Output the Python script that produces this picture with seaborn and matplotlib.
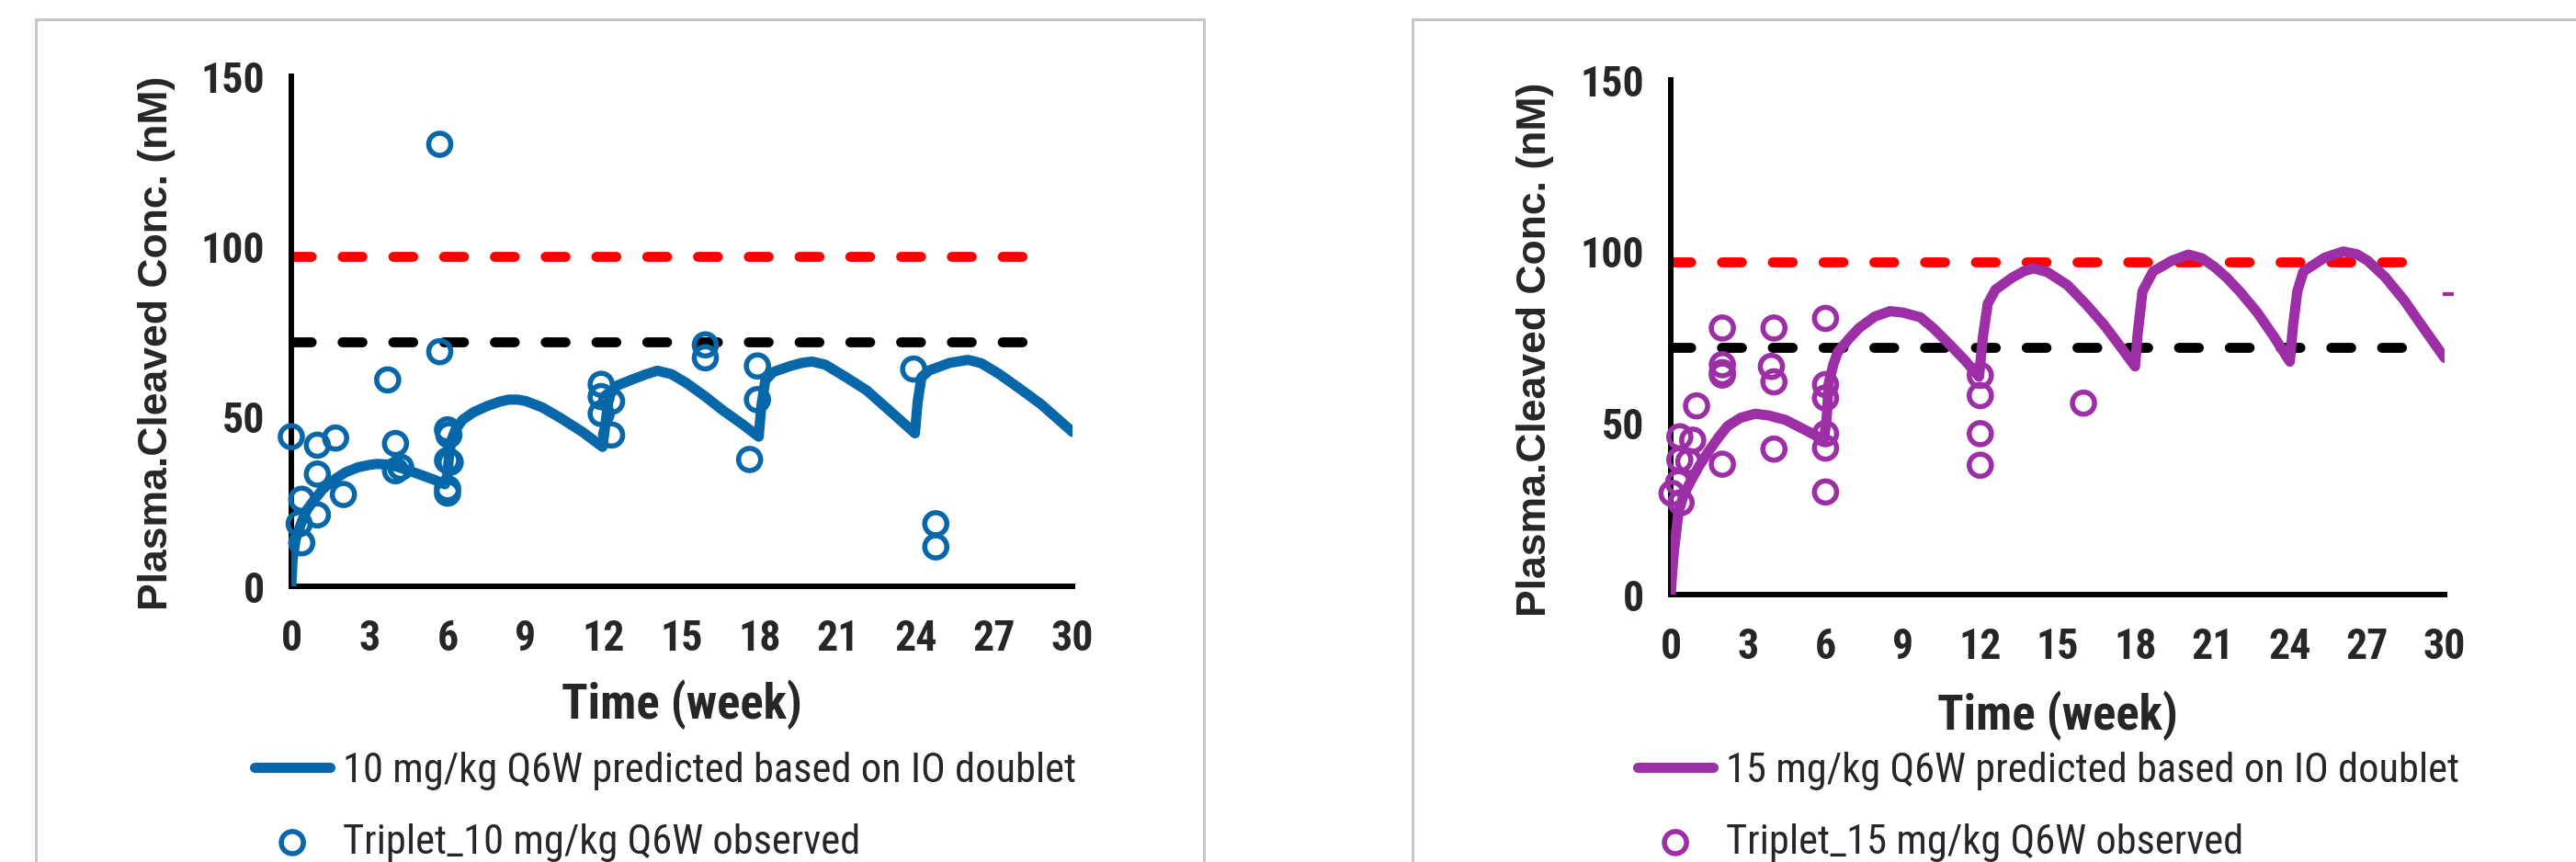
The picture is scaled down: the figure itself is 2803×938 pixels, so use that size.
import numpy as np
import pandas as pd
import matplotlib
matplotlib.use('Agg')
import matplotlib.pyplot as plt
import matplotlib.patches as patches
import seaborn as sns

# predicted curves (week, nM)
t_pred_10 = [0, 0.05, 0.17, 0.4, 0.6, 0.81, 1.2, 1.5, 1.75, 2.1, 2.56, 3.0, 3.28, 3.7,
             4.1, 4.6, 5.0, 5.5, 5.9,
             6.0, 6.05, 6.15, 6.3, 6.58, 7.0, 7.52, 8.0, 8.34, 8.7, 9.0, 9.64, 10.34,
             11.2, 11.95,
             12.05, 12.2, 12.5, 13.05, 13.6, 14.05, 14.6, 15.17, 15.9, 16.58, 17.3, 17.95,
             18.05, 18.2, 18.5, 19.17, 19.6, 19.99, 20.5, 21.28, 22.1, 23.0, 23.95,
             24.05, 24.2, 24.5, 25.28, 25.99, 26.5, 27.17, 28.0, 28.8, 30.0]
c_pred_10 = [0, 8, 14, 19, 22.5, 24.7, 28.5, 30.5, 31.9, 33.6, 35, 35.7, 36, 35.8,
             35.1, 33.8, 32.7, 31.3, 30,
             33, 38, 43, 46, 49, 51.2, 53, 54.3, 54.9, 54.9, 54.5, 52.6, 49.5,
             45.3, 41,
             47, 56, 59, 60.7, 62.3, 63.4, 62.4, 59.8, 55.8, 51.7, 47.8, 44,
             53, 60.5, 63, 64.8, 65.7, 66.1, 65.2, 61.6, 57.6, 51.5, 45,
             54, 61.5, 63.5, 65.7, 66.6, 65.6, 62.5, 58, 53.5, 45.4]

t_pred_15 = [0, 0.05, 0.12, 0.3, 0.5, 0.77, 1.1, 1.49, 1.85, 2.2, 2.7, 3.27, 3.8,
             4.45, 5.2, 5.94,
             6.05, 6.12, 6.3, 6.47, 6.9, 7.3, 7.9, 8.5, 9.0, 9.68, 10.2, 10.8, 11.4, 11.95,
             12.1, 12.29, 12.59, 13.24, 13.7, 14.07, 14.6, 15.38, 16.1, 16.8, 17.4, 18.0,
             18.1, 18.29, 18.7, 19.42, 20.07, 20.6, 21.08, 21.55, 22.1, 22.74, 23.4, 24.0,
             24.12, 24.29, 24.53, 25.35, 26.07, 26.6, 27.02, 27.7, 28.44, 29.2, 30.0]
c_pred_15 = [0, 6, 12.5, 24.1, 29, 33, 37.5, 42, 45.8, 49.1, 51.5, 52.7, 52.2,
             50.9, 48, 45.1,
             52, 61.6, 67, 70.6, 74.5, 77.7, 81, 82.6, 82.2, 80.8, 77.5, 73, 68.3, 63.5,
             75, 84.8, 88.9, 92.4, 94.3, 95.1, 94, 90.2, 84.6, 78.6, 72.6, 66.5,
             76, 88.4, 94.2, 97.3, 99.1, 98, 95.5, 92.4, 88, 82.2, 75, 67.9,
             78, 88.4, 94.2, 98.2, 100, 99.2, 97.3, 92.5, 85.7, 77.5, 69]

# observed triplet data
t_obs_10 = [0, 0.3, 0.4, 0.4, 1.0, 1.0, 1.0, 1.7, 2.0, 3.7, 4.0, 4.0, 4.2,
            5.7, 5.7, 6.0, 6.05, 6.0, 6.1, 6.0, 6.0,
            11.9, 11.9, 12.3, 11.9, 12.3, 15.9, 15.9, 17.9, 17.9, 17.6,
            23.9, 24.75, 24.75]
c_obs_10 = [44, 18.4, 12.8, 25.6, 41.5, 33, 21, 43.6, 27, 60.7, 42, 34, 35,
            130, 69, 46, 44.5, 37, 36.5, 28.7, 27.4,
            59.4, 55.8, 54.4, 50.8, 44.5, 71, 67.2, 64.8, 54.9, 37.3,
            63.9, 18.4, 11.6]

t_obs_15 = [0.05, 0.3, 0.4, 0.35, 0.7, 0.85, 0.35, 1.0,
            2.0, 2.0, 2.0, 2.0, 2.0,
            3.9, 4.0, 4.0, 4.0,
            6.0, 6.0, 6.0, 6.0, 6.0, 6.0,
            12.0, 12.0, 12.0, 12.0, 16.0]
c_obs_15 = [29.5, 32.6, 26.8, 46, 38.8, 45, 39.3, 55,
            77.7, 67, 64.7, 64, 38,
            66.5, 77.7, 62, 42.4,
            80.5, 61.2, 57.3, 46.9, 42.7, 29.9,
            63.9, 58, 46.9, 37.7, 55.8]

# small stray mark right of the 15 mg/kg panel
t_stray = [30.15]
c_stray = [87.5]

ref_x = [0, 28.7]
red_level = 97
black_level = 72
x_ticks = [0, 3, 6, 9, 12, 15, 18, 21, 24, 27, 30]
y_ticks = [0, 50, 100, 150]

label_10 = ['10 mg/kg Q6W predicted based on IO doublet', 'Triplet_10 mg/kg Q6W observed']
label_15 = ['15 mg/kg Q6W predicted based on IO doublet', 'Triplet_15 mg/kg Q6W observed']

blue = '#0767a9'
purple = '#9c2ea6'

sns.set_style('white')
narrow = ['Liberation Sans Narrow', 'Arial Narrow', 'Roboto Condensed',
          'Archivo Narrow', 'Fira Sans Condensed', 'DejaVu Sans']
plt.rcParams['font.family'] = narrow

W, H = 2803, 938
fig = plt.figure(figsize=(W / 100, H / 100), dpi=100)

# grey panel frames
for x0, x1 in [(39, 1310), (1537, 2830)]:
    fig.add_artist(patches.Rectangle((x0 / W, -0.1), (x1 - x0) / W, 1.1 - 21 / H,
                                     transform=fig.transFigure, fill=False,
                                     edgecolor='#c6c6c6', linewidth=2.2, clip_on=False))


def make_panel(rect, t_pred, c_pred, t_obs, c_obs, color, labels, leg_xy, ylab_x, xlab_y):
    ax = fig.add_axes(rect)
    pred = pd.DataFrame({'t': t_pred, 'c': c_pred})
    obs = pd.DataFrame({'t': t_obs, 'c': c_obs})
    dash_kw = dict(linewidth=7.8, dashes=(2.0, 3.1), dash_capstyle='round', zorder=2)
    ax.plot(ref_x, [red_level] * 2, color='#ff0000', **dash_kw)
    ax.plot(ref_x, [black_level] * 2, color='black', **dash_kw)
    sns.lineplot(data=pred, x='t', y='c', ax=ax, color=color, linewidth=8.0,
                 estimator=None, sort=False, label=labels[0], zorder=3)
    sns.scatterplot(data=obs, x='t', y='c', ax=ax, marker='o', s=300,
                    facecolor='none', edgecolor=color, linewidth=4.0,
                    label=labels[1], zorder=4, clip_on=False)
    ax.set_xlim(0, 30)
    ax.set_ylim(0, 150)
    ax.set_xticks(x_ticks)
    ax.set_yticks(y_ticks)
    for s in ['top', 'right']:
        ax.spines[s].set_visible(False)
    for s in ['left', 'bottom']:
        ax.spines[s].set_linewidth(4.3)
        ax.spines[s].set_color('black')
    ax.tick_params(axis='both', direction='out', length=15, width=4.3, color='black',
                   labelsize=33)
    ax.tick_params(axis='x', pad=10)
    ax.tick_params(axis='y', pad=6)
    for lab in ax.get_xticklabels() + ax.get_yticklabels():
        lab.set_fontweight('bold')
    ax.set_xlabel('Time (week)', fontsize=38, fontweight='bold')
    ax.xaxis.set_label_coords(0.5, xlab_y)
    ax.set_ylabel('Plasma.Cleaved Conc. (nM)', fontsize=32, fontweight='bold',
                  family=['Liberation Sans', 'DejaVu Sans'])
    ax.yaxis.set_label_coords(ylab_x, 0.477)
    ax.legend(loc='upper left', bbox_to_anchor=leg_xy, bbox_transform=fig.transFigure,
              frameon=False, fontsize=32, handlelength=1.85, handletextpad=0.3,
              labelspacing=0.8, borderpad=0, borderaxespad=0, markerscale=1.0)
    return ax


ax1 = make_panel([317 / W, 1 - 638 / H, 850 / W, 555 / H], t_pred_10, c_pred_10,
                 t_obs_10, c_obs_10, blue, label_10, (277 / W, 1 - 818 / H), -0.148, -0.183)
ax2 = make_panel([1818 / W, 1 - 647 / H, 842 / W, 560 / H], t_pred_15, c_pred_15,
                 t_obs_15, c_obs_15, purple, label_15, (1782 / W, 1 - 818 / H), -0.151, -0.186)
ax2.plot(t_stray, c_stray, marker='_', markersize=8, markeredgewidth=3, color=purple,
         linestyle='none', clip_on=False)

fig.savefig('out.png', dpi=100)
